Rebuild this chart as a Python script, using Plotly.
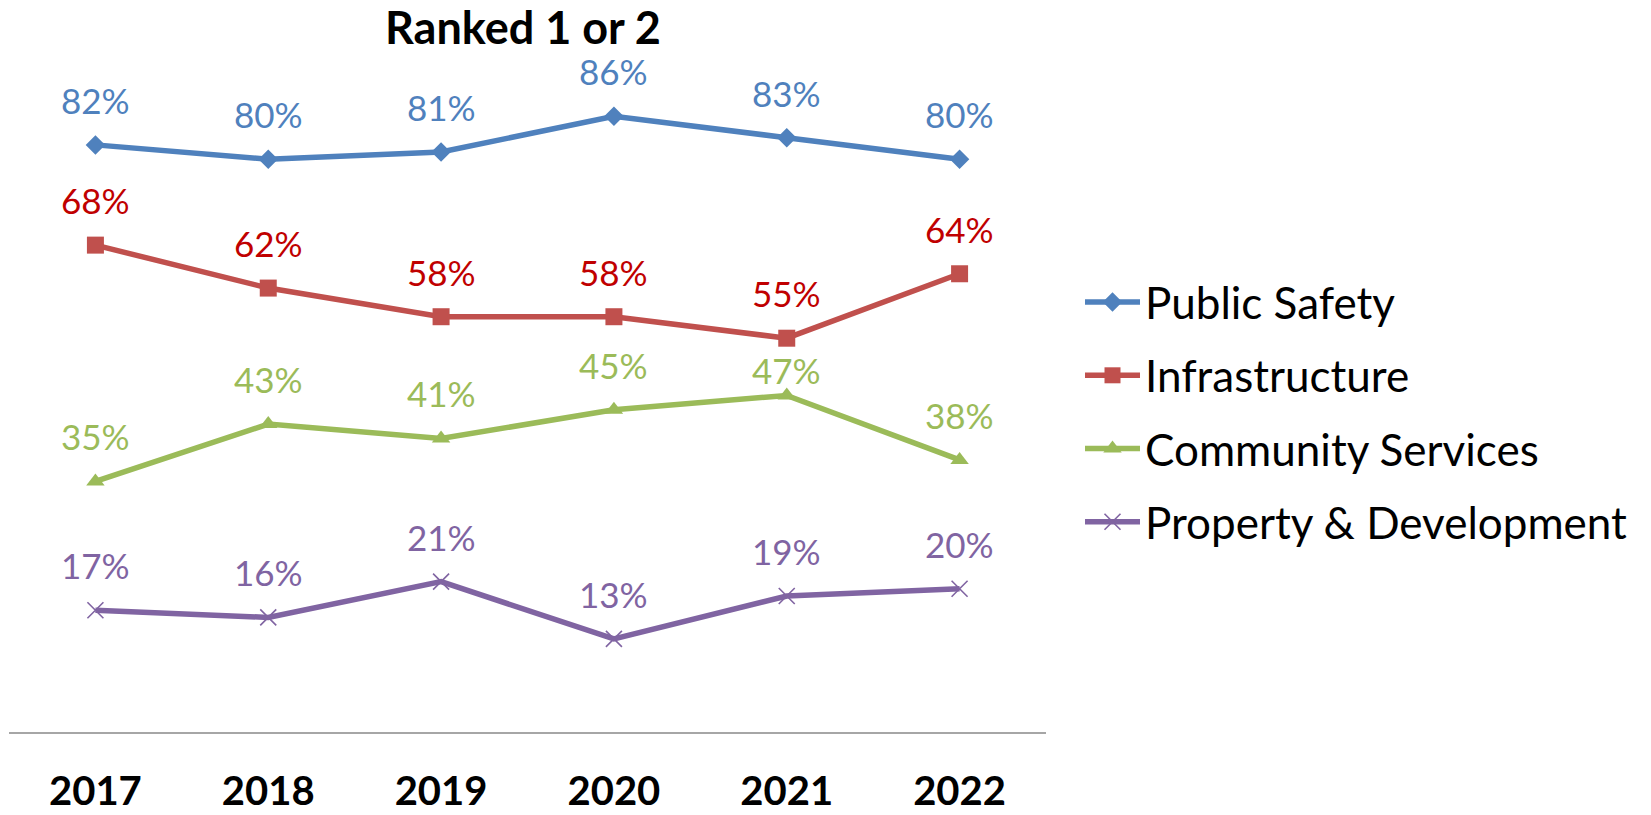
import plotly.graph_objects as go

years = ["2017", "2018", "2019", "2020", "2021", "2022"]
public_safety = [82, 80, 81, 86, 83, 80]
infrastructure = [68, 62, 58, 58, 55, 64]
community_services = [35, 43, 41, 45, 47, 38]
property_dev = [17, 16, 21, 13, 19, 20]

series = [
    ("Public Safety", public_safety, "#4F81BD", "#4F81BD", "diamond", 15, 0),
    ("Infrastructure", infrastructure, "#C0504D", "#C00000", "square", 17, 0),
    ("Community Services", community_services, "#9BBB59", "#9BBB59", "triangle-up", 16, 0),
    ("Property & Development", property_dev, "#8064A2", "#8064A2", "x-thin", 16, 1.6),
]

# label placement tweak (series name, year index) -> vertical shift in px
label_shift_override = {("Community Services", 4): 25}

FONT = "Lato, 'Noto Sans', sans-serif"

fig = go.Figure()
annotations = []
for i, (name, vals, lc, tc, sym, ms, mlw) in enumerate(series):
    marker = dict(symbol=sym, size=ms, color=lc)
    if sym == "x-thin":
        marker["line"] = dict(color=lc, width=mlw)
    fig.add_trace(go.Scatter(
        x=years, y=vals, name=name, mode="lines+markers",
        line=dict(color=lc, width=5.5),
        marker=marker,
        legendgroup=f"g{i}",
    ))
    for j, v in enumerate(vals):
        annotations.append(dict(
            x=j, y=v, xref="x", yref="y", text=f"{v}%", showarrow=False,
            yshift=label_shift_override.get((name, j), 45), yanchor="middle",
            font=dict(family=FONT, size=35, color=tc),
        ))

fig.update_layout(
    width=1651, height=815,
    paper_bgcolor="white", plot_bgcolor="white",
    margin=dict(l=9, r=605, t=16, b=83, autoexpand=False),
    title=dict(text="<b>Ranked 1 or 2</b>", x=523/1651, xref="container", xanchor="center",
               y=1 - 28/815, yref="container", yanchor="middle",
               font=dict(family=FONT, size=45, color="black")),
    annotations=annotations,
    showlegend=True,
    legend=dict(
        x=1080/1651, xref="container", xanchor="left",
        y=1 - 412/815, yref="container", yanchor="middle",
        font=dict(family=FONT, size=44, color="black"),
        tracegroupgap=13, itemwidth=55, bgcolor="rgba(0,0,0,0)",
    ),
    xaxis=dict(
        type="category", range=[-0.5, 5.5], showgrid=False, zeroline=False,
        showline=True, linecolor="#A6A6A6", linewidth=1.5, automargin=False,
        ticks="", ticklabelstandoff=23,
        tickfont=dict(family=FONT, size=40, color="black", weight="bold"),
    ),
    yaxis=dict(range=[0, 100], showticklabels=False, showline=False, ticks="",
               showgrid=False, zeroline=False, automargin=False),
)

fig.write_html("out.html", config={"displayModeBar": False},
               post_script="document.body.style.margin='0';document.body.style.overflow='hidden';")
